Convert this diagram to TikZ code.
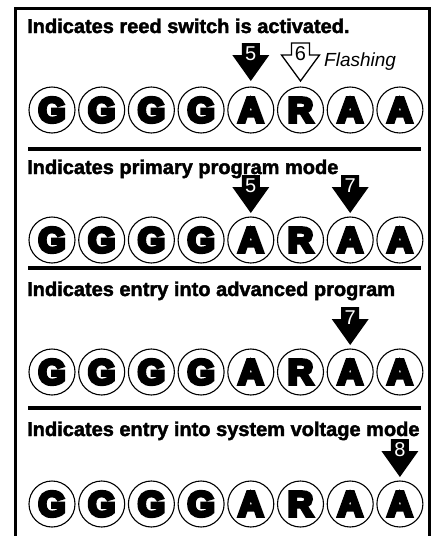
\documentclass[tikz,border=0pt]{standalone}
\usepackage{fontspec}
\setmainfont{Liberation Sans}
\newfontfamily\heavyfont[FakeBold=10]{Liberation Sans Bold}
\newfontfamily\titlefont[FakeBold=2]{Liberation Sans Bold}
\tikzset{
  titletext/.style={anchor=base west, inner sep=0pt, font=\titlefont\fontsize{20}{24}\selectfont},
  lamp/.style={circle, draw, line width=1.1pt, minimum size=46pt, inner sep=0pt, font=\heavyfont\fontsize{35}{35}\selectfont},
  digit/.style={inner sep=0pt, font=\fontsize{20}{20}\selectfont},
  sepline/.style={line width=4pt},
  frameline/.style={line width=2.6pt},
}
\newcommand\blackarrow[4]{%
  \fill (#2-9,#3-38) -- (#2+9,#3-38) -- (#2+9,#3-26) -- (#2+18.5,#3-26) -- (#2,#3) -- (#2-18.5,#3-26) -- (#2-9,#3-26) -- cycle;
  \node[digit, text=white] (#1) at (#2,#3-27) {#4};
}
\newcommand\whitearrow[4]{%
  \filldraw[fill=white, line width=1.3pt, line join=miter] (#2-9,#3-38) -- (#2+9,#3-38) -- (#2+9,#3-26) -- (#2+19,#3-26) -- (#2,#3) -- (#2-19,#3-26) -- (#2-9,#3-26) -- cycle;
  \node[digit, text=black] (#1) at (#2,#3-27) {#4};
}
\begin{document}
\begin{tikzpicture}[x=1pt,y=-1pt]
\useasboundingbox (0,0) rectangle (434,536);
% frame (open at bottom)
\draw[frameline] (15.5,536) -- (15.5,8.5) -- (429.5,8.5) -- (429.5,536);
% separators
\foreach \yy in {149,268,408} {
  \draw[sepline] (28,\yy) -- (421,\yy);
}
% titles
\node[titletext] (t1) at (27,33) {Indicates reed switch is activated.};
\node[titletext] (t2) at (27,174) {Indicates primary program mode};
\node[titletext] (t3) at (27,296) {Indicates entry into advanced program};
\node[titletext] (t4) at (27,436) {Indicates entry into system voltage mode};
% lamp rows
\foreach \r/\yy in {1/110,2/240,3/372,4/504} {
  \foreach \i/\L in {0/G,1/G,2/G,3/G,4/A,5/R,6/A,7/A} {
    \node[lamp] (lamp\r-\i) at ({52+49.7*\i},\yy) {\L};
  }
}
% arrows
\blackarrow{a1}{250.8}{81}{5}
\whitearrow{a2}{300.5}{81}{6}
\node[anchor=base west, inner sep=0pt, font=\itshape\fontsize{19}{19}\selectfont] (flash) at (324,66) {Flashing};
\blackarrow{a3}{250.8}{213}{5}
\blackarrow{a4}{350.2}{213}{7}
\blackarrow{a5}{350.2}{345}{7}
\blackarrow{a6}{399.9}{477}{8}
\end{tikzpicture}
\end{document}
